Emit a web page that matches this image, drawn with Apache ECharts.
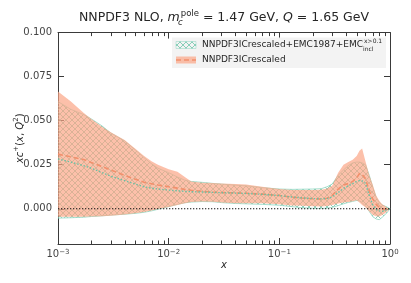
<!DOCTYPE html>
<html>
<head>
<meta charset="utf-8">
<script src="https://cdn.jsdelivr.net/npm/echarts@6/dist/echarts.min.js"></script>
<style>html,body{margin:0;padding:0;background:#fff}#c{width:411px;height:283px}</style>
</head>
<body>
<div id="c"></div>
<script>
// ---- data ----
const xs = [0.001, 0.0013, 0.0017, 0.002, 0.0025, 0.003, 0.004, 0.005, 0.006, 0.007, 0.008, 0.01, 0.012, 0.014, 0.016, 0.02, 0.025, 0.03, 0.04, 0.05, 0.07, 0.1, 0.13, 0.16, 0.2, 0.24, 0.27, 0.3, 0.34, 0.38, 0.42, 0.46, 0.5, 0.53, 0.56, 0.6, 0.65, 0.7, 0.75, 0.8, 0.85, 0.9, 0.95, 1.0];
// NNPDF3ICrescaled (orange)
const orangeUpper = [0.0665, 0.061, 0.0545, 0.051, 0.0465, 0.0435, 0.039, 0.034, 0.030, 0.027, 0.025, 0.0225, 0.021, 0.018, 0.0155, 0.0147, 0.0146, 0.0144, 0.0140, 0.0138, 0.0125, 0.0112, 0.0106, 0.0106, 0.0106, 0.0108, 0.0115, 0.013, 0.0205, 0.025, 0.0265, 0.0278, 0.030, 0.033, 0.0342, 0.027, 0.019, 0.0135, 0.0075, 0.0045, 0.0025, 0.0015, 0.0005, 0.0];
const orangeLower = [-0.0045, -0.0045, -0.0045, -0.0044, -0.0042, -0.004, -0.0032, -0.0025, -0.0018, -0.001, -0.0002, 0.001, 0.0022, 0.0032, 0.0038, 0.0041, 0.004, 0.0035, 0.0032, 0.0032, 0.0031, 0.0025, 0.0019, 0.0017, 0.0014, 0.0013, 0.0015, 0.0022, 0.003, 0.0035, 0.0038, 0.0042, 0.0048, 0.0035, 0.0022, 0.0008, -0.0015, -0.0035, -0.0043, -0.0044, -0.0035, -0.0025, -0.0012, 0.0];
const orangeCentral = [0.031, 0.0295, 0.028, 0.0262, 0.024, 0.022, 0.019, 0.0168, 0.015, 0.0142, 0.0135, 0.0125, 0.0117, 0.0110, 0.0105, 0.0099, 0.0095, 0.0092, 0.009, 0.0088, 0.0083, 0.0075, 0.0066, 0.0061, 0.0057, 0.0055, 0.006, 0.0075, 0.0112, 0.0135, 0.0143, 0.0155, 0.0175, 0.020, 0.0195, 0.0172, 0.010, 0.0055, 0.0025, 0.0008, 0.0, -0.0002, -0.0001, 0.0];
// NNPDF3ICrescaled+EMC1987+EMC_incl (teal, hatched)
const tealUpper = [0.0608, 0.0565, 0.0535, 0.051, 0.047, 0.043, 0.0385, 0.0334, 0.029, 0.0255, 0.023, 0.0205, 0.018, 0.0162, 0.0155, 0.015, 0.0144, 0.014, 0.0134, 0.013, 0.012, 0.0112, 0.011, 0.0111, 0.0112, 0.0114, 0.0125, 0.014, 0.019, 0.022, 0.0245, 0.026, 0.0265, 0.0265, 0.026, 0.025, 0.019, 0.012, 0.0065, 0.0035, 0.0022, 0.0015, 0.0008, 0.0];
const tealLower = [-0.0053, -0.0051, -0.0048, -0.0044, -0.004, -0.0036, -0.0031, -0.0026, -0.002, -0.0012, -0.0003, 0.0012, 0.0025, 0.0034, 0.0038, 0.0041, 0.004, 0.0035, 0.003, 0.0028, 0.0025, 0.002, 0.0012, 0.0006, 0.0003, 0.0002, 0.0004, 0.0008, 0.0018, 0.0028, 0.0036, 0.0042, 0.0047, 0.0045, 0.0035, 0.0015, -0.0015, -0.0045, -0.0058, -0.0062, -0.0048, -0.0034, -0.0018, 0.0];
const tealCentral = [0.0283, 0.0265, 0.0245, 0.023, 0.0205, 0.0185, 0.016, 0.014, 0.0125, 0.0117, 0.0112, 0.0106, 0.0102, 0.0099, 0.0097, 0.0095, 0.0093, 0.0091, 0.0089, 0.0087, 0.0082, 0.0075, 0.0067, 0.0062, 0.0058, 0.0056, 0.0058, 0.0068, 0.0092, 0.0115, 0.013, 0.0143, 0.0155, 0.016, 0.0158, 0.0145, 0.0075, 0.002, -0.0005, -0.0012, -0.0015, -0.001, -0.0004, 0.0];
const yTicks = [0, 0.025, 0.05, 0.075, 0.1];
const minorTicks = [0.002,0.003,0.004,0.005,0.006,0.007,0.008,0.009,0.02,0.03,0.04,0.05,0.06,0.07,0.08,0.09,0.2,0.3,0.4,0.5,0.6,0.7,0.8,0.9];
const legendNames = ['NNPDF3ICrescaled+EMC1987+EMC', 'NNPDF3ICrescaled'];

// ---- styles ----
const FONT = 'DejaVu Sans';
const TEXT = '#262626';
const AX = '#3a3a3a';
const TEAL = '#66c2a5';
const TEAL_EDGE = '#8fd6c0';
const ORANGE_FILL = 'rgba(251,165,134,0.7)';
const ORANGE_LINE = '#f2906c';

function hatch(color) {
  const c = document.createElement('canvas');
  c.width = 6; c.height = 6;
  const g = c.getContext('2d');
  g.strokeStyle = color; g.lineWidth = 0.8;
  g.beginPath();
  g.moveTo(-3, -3); g.lineTo(9, 9);
  g.moveTo(-3, 9); g.lineTo(9, -3);
  g.stroke();
  return c;
}
const hatchImg = hatch('rgba(102,194,165,0.95)');

const pairs = a => xs.map((x, i) => [x, a[i]]);
const bandData = (lo, hi) => xs.map((x, i) => [x, lo[i], hi[i]]);

// band drawn as one polygon through the axes' scales
function bandSeries(lo, hi, fill, z) {
  const data = bandData(lo, hi);
  return {
    type: 'custom', data: data, z: z, silent: true, clip: true,
    encode: {x: 0, y: [1, 2]},
    renderItem: (params, api) => {
      if (params.dataIndex !== 0) return null;
      const top = data.map(d => api.coord([d[0], d[2]]));
      const bot = data.map(d => api.coord([d[0], d[1]])).reverse();
      return {type: 'polygon', shape: {points: top.concat(bot)}, style: {fill: fill}};
    }
  };
}

const chart = echarts.init(document.getElementById('c'), null, {renderer: 'canvas'});
const supExp = v => { const e = Math.round(Math.log10(v)); return '{b|10}{s|' + (e < 0 ? '\u2212' + (-e) : e) + '}'; };

chart.setOption({
  animation: false,
  textStyle: {fontFamily: FONT},
  grid: {left: 58, right: 21, top: 32.6, bottom: 39, outerBoundsMode: 'none', containLabel: false},
  xAxis: [{
    type: 'log', logBase: 10, min: 0.001, max: 1, position: 'bottom',
    axisLine: {onZero: false, lineStyle: {color: AX, width: 1}},
    axisTick: {inside: true, length: 6, lineStyle: {color: AX}},
    splitLine: {show: false}, minorTick: {show: false},
    axisLabel: {margin: 5, showMinLabel: true, showMaxLabel: true, formatter: supExp,
      rich: {b: {fontSize: 10, color: '#444', fontFamily: FONT}, s: {fontSize: 7, color: '#444', verticalAlign: 'top', fontFamily: FONT, lineHeight: 10}}},
    name: '{i|x}', nameLocation: 'middle', nameGap: 16, nameMoveOverlap: false,
    nameTextStyle: {rich: {i: {fontSize: 10, fontStyle: 'italic', color: TEXT, fontFamily: FONT}}}
  }, {
    type: 'log', logBase: 10, min: 0.001, max: 1, position: 'top',
    axisLine: {onZero: false, lineStyle: {color: AX, width: 1}},
    axisTick: {inside: true, length: 6, lineStyle: {color: AX}},
    axisLabel: {show: false}, splitLine: {show: false}
  }],
  yAxis: [{
    type: 'value', min: -0.02, max: 0.1, position: 'left',
    axisLine: {show: true, onZero: false, lineStyle: {color: AX, width: 1}},
    axisTick: {show: true, inside: true, length: 6, customValues: yTicks, lineStyle: {color: AX}},
    axisLabel: {customValues: yTicks, margin: 6, fontSize: 10, color: '#444', fontFamily: FONT, formatter: v => v.toFixed(3)},
    splitLine: {show: false},
    name: '{i|xc}{s|+}{n|(}{i|x}{n|, }{i|Q}{s|2}{n|)}', nameLocation: 'middle', nameGap: 31, nameRotate: 90, nameMoveOverlap: false,
    nameTextStyle: {rich: {
      i: {fontSize: 10, fontStyle: 'italic', color: TEXT, fontFamily: FONT, lineHeight: 14},
      n: {fontSize: 10, color: TEXT, fontFamily: FONT, lineHeight: 14},
      s: {fontSize: 7, color: TEXT, fontFamily: FONT, verticalAlign: 'top', lineHeight: 8}}}
  }, {
    type: 'value', min: -0.02, max: 0.1, position: 'right',
    axisLine: {show: true, onZero: false, lineStyle: {color: AX, width: 1}},
    axisTick: {show: true, inside: true, length: 6, customValues: yTicks, lineStyle: {color: AX}},
    axisLabel: {show: false}, splitLine: {show: false}
  }],
  series: [
    // teal hatched band (under orange)
    bandSeries(tealLower, tealUpper, {image: hatchImg, repeat: 'repeat'}, 1),
    {type: 'line', data: pairs(tealUpper), symbol: 'none', lineStyle: {color: TEAL_EDGE, width: 0.8}, z: 1},
    {type: 'line', data: pairs(tealLower), symbol: 'none', lineStyle: {color: TEAL_EDGE, width: 0.8}, z: 1},
    // orange band
    bandSeries(orangeLower, orangeUpper, ORANGE_FILL, 2),
    // central values
    {type: 'line', data: pairs(orangeCentral), symbol: 'none', lineStyle: {color: ORANGE_LINE, width: 1.6, type: [5, 3]}, z: 3},
    {type: 'line', data: pairs(tealCentral), symbol: 'none', lineStyle: {color: TEAL, width: 1.4, type: [1.5, 1.8]}, z: 3},
    // zero line
    {type: 'line', data: [[0.001, 0], [1, 0]], symbol: 'none', lineStyle: {color: '#111', width: 1.1, type: [1.3, 1.7]}, z: 4},
    // minor log ticks
    {type: 'custom', data: minorTicks.map(v => [v]), clip: false, z: 5, silent: true,
      renderItem: (params, api) => {
        const v = api.value(0);
        const b = api.coord([v, -0.02]);
        const t = api.coord([v, 0.1]);
        const st = {stroke: AX, lineWidth: 1};
        return {type: 'group', children: [
          {type: 'line', shape: {x1: Math.round(b[0]) + 0.5, y1: b[1], x2: Math.round(b[0]) + 0.5, y2: b[1] - 3.5}, style: st},
          {type: 'line', shape: {x1: Math.round(t[0]) + 0.5, y1: t[1], x2: Math.round(t[0]) + 0.5, y2: t[1] + 3.5}, style: st}
        ]};
      }}
  ],
  graphic: [
    // title
    {type: 'text', x: 224, y: 18, z: 10, style: {
      text: '{n|NNPDF3 NLO, }{i|m}{sb|c}{sp|pole}{n| = 1.47 GeV, }{i|Q}{n| = 1.65 GeV}',
      align: 'center', verticalAlign: 'middle',
      rich: {
        n: {fontSize: 12.5, fontFamily: FONT, fill: TEXT, lineHeight: 18},
        i: {fontSize: 12.5, fontFamily: FONT, fontStyle: 'italic', fill: TEXT, lineHeight: 18},
        sb: {fontSize: 8.5, fontFamily: FONT, fontStyle: 'italic', fill: TEXT, verticalAlign: 'bottom', lineHeight: 10, width: 1},
        sp: {fontSize: 8.5, fontFamily: FONT, fill: TEXT, verticalAlign: 'top', lineHeight: 10}
      }}},
    // legend
    {type: 'rect', z: 10, shape: {x: 172, y: 37.5, width: 214, height: 30.5}, style: {fill: 'rgba(242,242,242,0.92)'}},
    {type: 'rect', z: 11, shape: {x: 176, y: 41.5, width: 20, height: 7}, style: {fill: {image: hatchImg, repeat: 'repeat'}, stroke: TEAL_EDGE, lineWidth: 0.5}},
    {type: 'rect', z: 11, shape: {x: 176, y: 56.5, width: 20, height: 7}, style: {fill: ORANGE_FILL}},
    {type: 'line', z: 12, shape: {x1: 176, y1: 60, x2: 196, y2: 60}, style: {stroke: ORANGE_LINE, lineWidth: 1.6, lineDash: [5, 3]}},
    {type: 'text', z: 12, x: 202, y: 45, style: {
      text: '{n|' + legendNames[0] + '}{sb|incl}{sp|x>0.1}', verticalAlign: 'middle', align: 'left',
      rich: {
        n: {fontSize: 9, fontFamily: FONT, fill: TEXT, lineHeight: 14},
        sb: {fontSize: 6, fontFamily: FONT, fill: TEXT, verticalAlign: 'bottom', lineHeight: 7, width: 1},
        sp: {fontSize: 6, fontFamily: FONT, fill: TEXT, verticalAlign: 'top', lineHeight: 7}
      }}},
    {type: 'text', z: 12, x: 202, y: 60, style: {text: legendNames[1], verticalAlign: 'middle', align: 'left', fontSize: 9, fontFamily: FONT, fill: TEXT}}
  ]
});
</script>
</body>
</html>
